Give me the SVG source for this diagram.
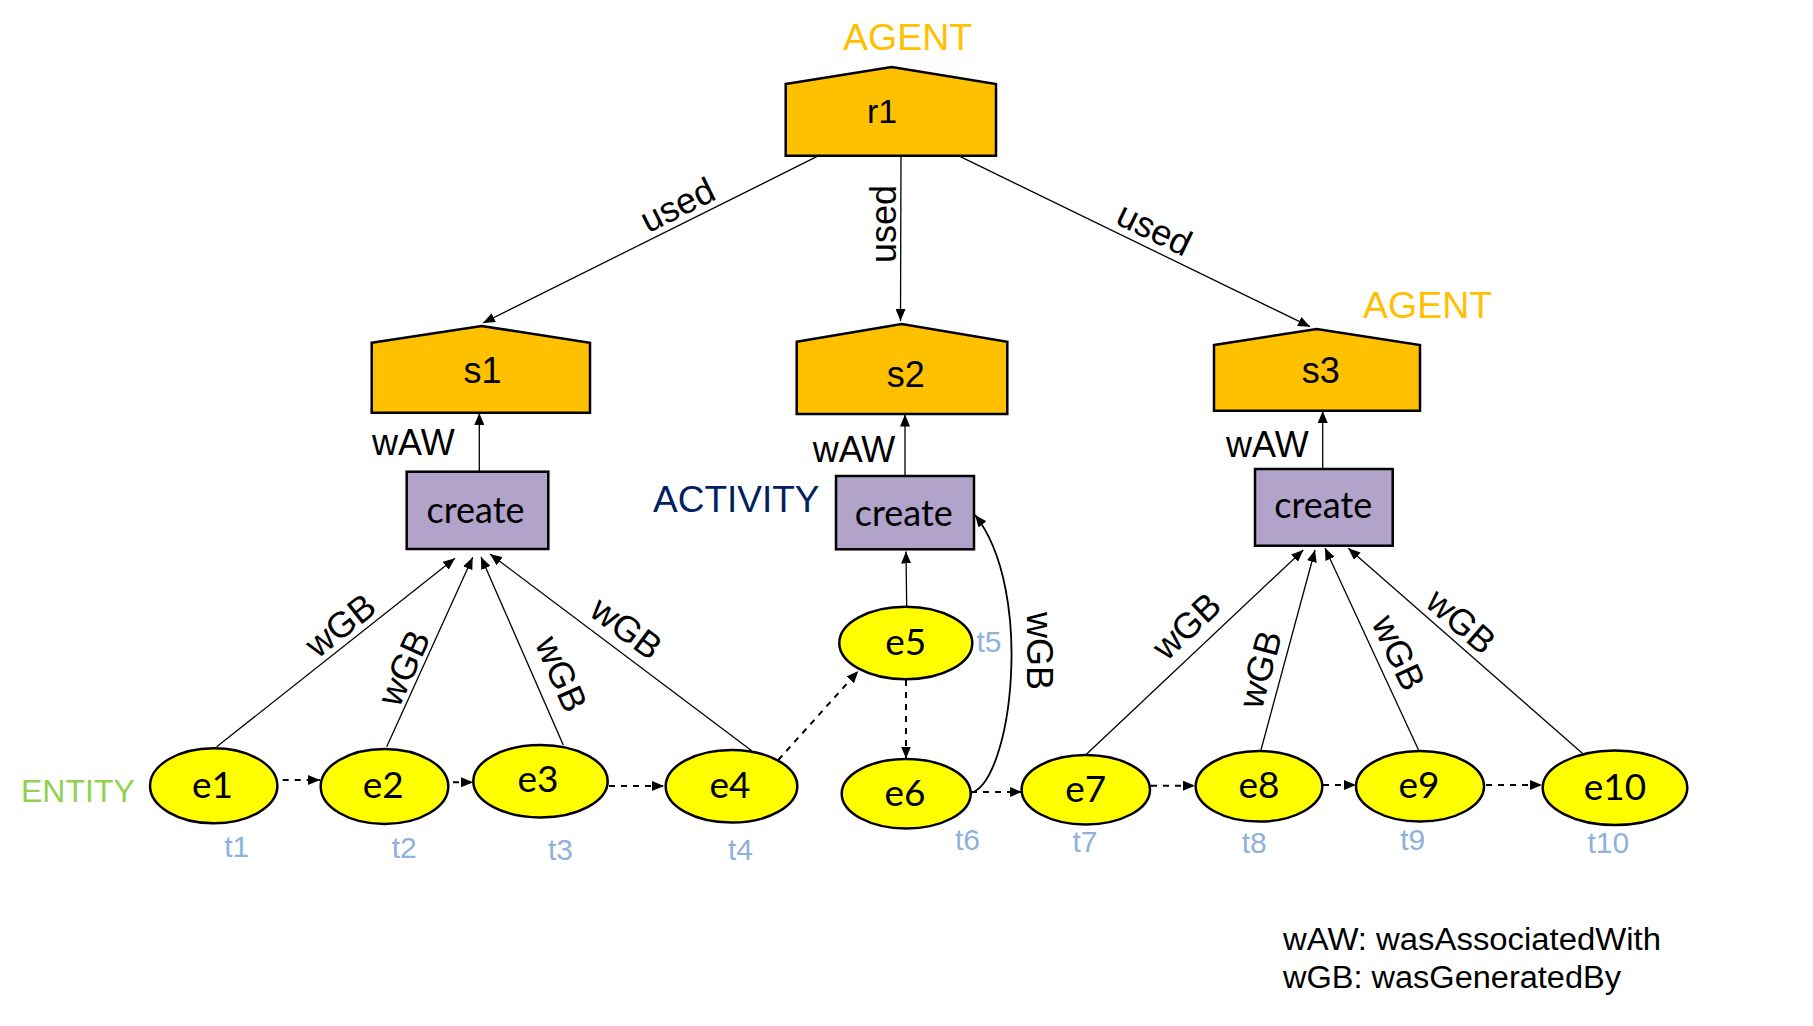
<svg xmlns="http://www.w3.org/2000/svg" width="1813" height="1026" viewBox="0 0 1813 1026">
<style>
.agent{fill:#FFC000;stroke:#000;stroke-width:2.5}
.act{fill:#B1A3C9;stroke:#000;stroke-width:2.5}
.ent{fill:#FFFF00;stroke:#000;stroke-width:2.5}
.edge{fill:none;stroke:#000;stroke-width:1.3}
.dash{fill:none;stroke:#000;stroke-width:2;stroke-dasharray:6 6}
.lbl{font-family:"Liberation Sans",Arial,sans-serif;font-size:36px;fill:#000}
.nl{font-family:"Liberation Sans",Arial,sans-serif;font-size:36px;fill:#000;text-anchor:middle}
.cl{font-family:Lato,"Open Sans",sans-serif;font-size:36px;fill:#000;text-anchor:middle}
.el{font-family:Lato,"Open Sans",sans-serif;font-size:37px;fill:#000;text-anchor:middle}
.t{font-family:"Liberation Sans",Arial,sans-serif;font-size:30px;fill:#8FB1DC;text-anchor:middle}
.wgb{font-family:"Liberation Sans",Arial,sans-serif;font-size:36px;fill:#000;text-anchor:middle}
</style>
<defs>
<marker id="ah" markerUnits="userSpaceOnUse" markerWidth="12" markerHeight="10" refX="12" refY="5" orient="auto">
<path d="M0,0 L12,5 L0,10 z" fill="#000"/>
</marker>
</defs>

<g id="legend-labels">
<text x="843" y="50" style="font-family:'Liberation Sans',Arial,sans-serif;font-size:37.5px;fill:#FFC000">AGENT</text>
<text x="1363" y="318" style="font-family:'Liberation Sans',Arial,sans-serif;font-size:37.5px;fill:#FFC000">AGENT</text>
<text x="653" y="512" style="font-family:'Liberation Sans',Arial,sans-serif;font-size:37px;fill:#002060">ACTIVITY</text>
<text x="21" y="802" style="font-family:'Liberation Sans',Arial,sans-serif;font-size:32px;fill:#92D050">ENTITY</text>
</g>

<g id="connectors">
<!-- used -->
<line class="edge" x1="816.7" y1="156.7" x2="483" y2="323" marker-end="url(#ah)"/>
<line class="edge" x1="901" y1="155.7" x2="900.5" y2="321" marker-end="url(#ah)"/>
<line class="edge" x1="958.3" y1="155.7" x2="1310" y2="326.7" marker-end="url(#ah)"/>
<!-- wAW -->
<line class="edge" x1="479.3" y1="471.7" x2="479.3" y2="413" marker-end="url(#ah)"/>
<line class="edge" x1="905" y1="478" x2="905" y2="414.5" marker-end="url(#ah)"/>
<line class="edge" x1="1322.7" y1="469" x2="1322.7" y2="411" marker-end="url(#ah)"/>
<!-- wGB -->
<line class="edge" x1="216.7" y1="746.7" x2="455" y2="558.3" marker-end="url(#ah)"/>
<line class="edge" x1="386.7" y1="746.7" x2="472.7" y2="557.3" marker-end="url(#ah)"/>
<line class="edge" x1="563.3" y1="745" x2="481" y2="557" marker-end="url(#ah)"/>
<line class="edge" x1="751.7" y1="750.7" x2="490" y2="554" marker-end="url(#ah)"/>
<line class="edge" x1="906.7" y1="606.7" x2="906" y2="551.5" marker-end="url(#ah)"/>
<path class="edge" style="stroke-width:1.8" d="M970.7 793 C1012 782 1035 590 975 515" marker-end="url(#ah)"/>
<line class="edge" x1="1086.7" y1="754" x2="1303.3" y2="550" marker-end="url(#ah)"/>
<line class="edge" x1="1260.7" y1="751" x2="1315" y2="550" marker-end="url(#ah)"/>
<line class="edge" x1="1419" y1="751" x2="1325" y2="548" marker-end="url(#ah)"/>
<line class="edge" x1="1582.3" y1="753.3" x2="1348.3" y2="548.3" marker-end="url(#ah)"/>
<!-- dashed entity chain -->
<line class="dash" x1="282.7" y1="780" x2="320" y2="780" marker-end="url(#ah)"/>
<line class="dash" x1="453" y1="782.3" x2="473" y2="782.3" marker-end="url(#ah)"/>
<line class="dash" x1="609" y1="786" x2="664" y2="786" marker-end="url(#ah)"/>
<line class="dash" x1="778.3" y1="760" x2="858.3" y2="671" marker-end="url(#ah)"/>
<line class="dash" x1="906" y1="680" x2="906" y2="758.5" marker-end="url(#ah)"/>
<line class="dash" x1="971" y1="792" x2="1021.7" y2="792" marker-end="url(#ah)"/>
<line class="dash" x1="1151" y1="785.7" x2="1195" y2="785.7" marker-end="url(#ah)"/>
<line class="dash" x1="1323" y1="785" x2="1356" y2="785" marker-end="url(#ah)"/>
<line class="dash" x1="1486" y1="785" x2="1542" y2="785" marker-end="url(#ah)"/>
<!-- edge labels -->
<text class="wgb" transform="translate(683,216) rotate(-26.5)">used</text>
<text class="wgb" transform="translate(896,224) rotate(-90)">used</text>
<text class="wgb" transform="translate(1149,240) rotate(25.9)">used</text>
<text class="lbl" x="372" y="455">wAW</text>
<text class="lbl" x="812.7" y="461.7">wAW</text>
<text class="lbl" x="1226" y="456.7">wAW</text>
<text class="wgb" transform="translate(348,635) rotate(-38.3)">wGB</text>
<text class="wgb" transform="translate(415,673) rotate(-65.6)">wGB</text>
<text class="wgb" transform="translate(550,679) rotate(66.4)">wGB</text>
<text class="wgb" transform="translate(619,638) rotate(36.9)">wGB</text>
<text class="wgb" transform="translate(1027,651) rotate(90)">wGB</text>
<text class="wgb" transform="translate(1195,635) rotate(-43.3)">wGB</text>
<text class="wgb" transform="translate(1272,672.6) rotate(-74.9)">wGB</text>
<text class="wgb" transform="translate(1387.4,658) rotate(65.2)">wGB</text>
<text class="wgb" transform="translate(1453,630.6) rotate(41.2)">wGB</text>
</g>

<g id="r1">
<polygon class="agent" points="785.7,84 891.7,67 996,84 996,155.7 785.7,155.7"/>
<text class="nl" x="882" y="123" style="font-size:34px">r1</text>
</g>
<g id="s1">
<polygon class="agent" points="371.7,342.7 481.7,326 590,342.7 590,412.7 371.7,412.7"/>
<text class="nl" x="482.5" y="383.3">s1</text>
</g>
<g id="s2">
<polygon class="agent" points="796.7,341.7 901.7,324 1007.3,341.7 1007.3,414 796.7,414"/>
<text class="nl" x="905.7" y="386.7">s2</text>
</g>
<g id="s3">
<polygon class="agent" points="1214,345 1316.7,329 1420,345 1420,410.7 1214,410.7"/>
<text class="nl" x="1320.7" y="383.3">s3</text>
</g>

<g id="create1">
<rect class="act" x="406.7" y="471.7" width="141.6" height="77.3"/>
<text class="cl" x="475.5" y="523">create</text>
</g>
<g id="create2">
<rect class="act" x="836" y="476" width="138" height="73.3"/>
<text class="cl" x="903.8" y="526">create</text>
</g>
<g id="create3">
<rect class="act" x="1255" y="469" width="137.7" height="76.7"/>
<text class="cl" x="1323.3" y="518.3">create</text>
</g>

<g id="e1"><ellipse class="ent" cx="213.7" cy="785.8" rx="63.7" ry="37.5"/><text class="el" x="212.5" y="798.3">e1</text><text class="t" x="236.7" y="856.7">t1</text></g>
<g id="e2"><ellipse class="ent" cx="384.5" cy="786.5" rx="63.8" ry="37.5"/><text class="el" x="383.3" y="798.3">e2</text><text class="t" x="404.2" y="858.3">t2</text></g>
<g id="e3"><ellipse class="ent" cx="540.5" cy="781.2" rx="67.2" ry="36.2"/><text class="el" x="538" y="791.7">e3</text><text class="t" x="560.5" y="860">t3</text></g>
<g id="e4"><ellipse class="ent" cx="731.5" cy="786.3" rx="65.8" ry="36.3"/><text class="el" x="730" y="798.3">e4</text><text class="t" x="740.5" y="860">t4</text></g>
<g id="e5"><ellipse class="ent" cx="905.8" cy="643" rx="66.5" ry="36.3"/><text class="el" x="905.7" y="655">e5</text><text class="t" x="989" y="651.7">t5</text></g>
<g id="e6"><ellipse class="ent" cx="906.2" cy="793.7" rx="64.5" ry="34.7"/><text class="el" x="905" y="806">e6</text><text class="t" x="967.5" y="850">t6</text></g>
<g id="e7"><ellipse class="ent" cx="1085.8" cy="789.7" rx="64.2" ry="34.7"/><text class="el" x="1085.7" y="801.7">e7</text><text class="t" x="1085" y="851.7">t7</text></g>
<g id="e8"><ellipse class="ent" cx="1259" cy="786.3" rx="63.3" ry="35.3"/><text class="el" x="1259" y="798.3">e8</text><text class="t" x="1254.2" y="853.3">t8</text></g>
<g id="e9"><ellipse class="ent" cx="1420" cy="786.3" rx="64" ry="35.3"/><text class="el" x="1419" y="798.3">e9</text><text class="t" x="1412.8" y="850">t9</text></g>
<g id="e10"><ellipse class="ent" cx="1615" cy="787.8" rx="72.3" ry="37.2"/><text class="el" x="1615" y="800">e10</text><text class="t" x="1608.3" y="853.3">t10</text></g>

<g id="legend">
<text class="lbl" x="1283" y="950" style="font-size:31px" textLength="378" lengthAdjust="spacingAndGlyphs">wAW: wasAssociatedWith</text>
<text class="lbl" x="1283" y="988.3" style="font-size:31px" textLength="338" lengthAdjust="spacingAndGlyphs">wGB: wasGeneratedBy</text>
</g>
</svg>
